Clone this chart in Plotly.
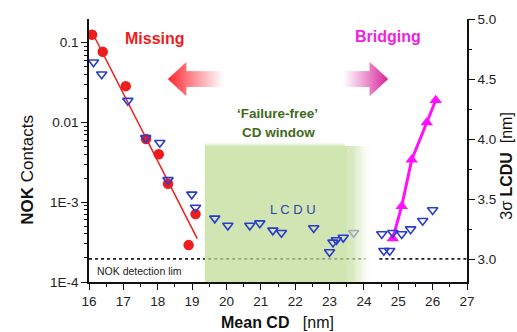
import math
import plotly.graph_objects as go

# ---------------- data ----------------
# Missing contacts (NOK fraction, left log axis)
miss_cd = [16.09, 16.40, 17.07, 17.66, 18.03, 18.30, 18.90, 19.10]
miss_nok = [0.126, 0.077, 0.0285, 0.0062, 0.0040, 0.0017, 2.9e-4, 7.1e-4]

# exponential fit through the missing-contact data
miss_fit_cd = [16.09, 19.15]
miss_fit_nok = [0.135, 3.5e-4]

# Bridging contacts (NOK fraction, left log axis)
bridge_cd = [24.84, 25.10, 25.39, 25.83, 26.09]
bridge_nok = [3.5e-4, 8.9e-4, 3.4e-3, 0.010, 0.019]

# Local CD uniformity (3 sigma, nm, right axis)
lcdu_cd = [16.13, 16.37, 17.13, 17.65, 18.06, 18.30, 18.99, 19.10, 19.66, 20.04,
           20.68, 20.97, 21.35, 21.60, 22.54, 23.00, 23.10, 23.20, 23.40, 23.70,
           24.52, 24.58, 24.75, 24.84, 25.10, 25.36, 25.71, 26.00]
lcdu_nm = [4.64, 4.54, 4.32, 4.01, 3.97, 3.66, 3.54, 3.43, 3.34, 3.28,
           3.28, 3.30, 3.24, 3.22, 3.26, 3.06, 3.14, 3.16, 3.18, 3.22,
           3.21, 3.07, 3.07, 3.22, 3.21, 3.25, 3.32, 3.41]

detection_limit = 1.95e-4
window_cd = [19.37, 23.45, 24.25]   # start, fade start, end of the failure-free window

x_ticks = list(range(16, 28))
nok_tickvals = [1e-4, 1e-3, 1e-2, 1e-1]
nok_ticktext = ["1E-4", "1E-3", "0.01", "0.1"]
lcdu_tickvals = [3.0, 3.5, 4.0, 4.5, 5.0]

# ---------------- layout geometry ----------------
W, H = 517, 332
L, R, T, B = 89, 50, 15, 50
PW, PH = W - L - R, H - T - B


def pxp(x):
    return (x - L) / PW


def pyp(y):
    return (H - B - y) / PH


FONT = "Liberation Sans, Arial, sans-serif"
BLUE = "#2a3ccc"
RED = "#ee1c1c"
MAGENTA = "#ff10ff"
GREEN = (208, 229, 178)

fig = go.Figure()

# detection limit (dashed), lighter inside the window
fig.add_trace(go.Scatter(x=[16, window_cd[0]], y=[detection_limit] * 2, mode="lines",
                         line=dict(color="#222222", width=1.6, dash="3px,3px"),
                         hoverinfo="skip", showlegend=False))
fig.add_trace(go.Scatter(x=[window_cd[0] + 0.1, 24.05], y=[detection_limit] * 2,
                         mode="lines", line=dict(color="#7f9468", width=1.4, dash="3px,3px"),
                         hoverinfo="skip", showlegend=False))
fig.add_trace(go.Scatter(x=[24.45, 27], y=[detection_limit] * 2, mode="lines",
                         line=dict(color="#222222", width=1.6, dash="3px,3px"),
                         hoverinfo="skip", showlegend=False))

# LCDU on the right axis
lcdu_colors = ["#a4a8bc" if window_cd[1] + 0.15 < x < window_cd[2] else BLUE for x in lcdu_cd]
fig.add_trace(go.Scatter(x=lcdu_cd, y=lcdu_nm, yaxis="y2", mode="markers",
                         marker=dict(symbol="triangle-down-open", size=9,
                                     color=lcdu_colors, line=dict(width=1.6, color=lcdu_colors)),
                         showlegend=False))

# missing contacts
fig.add_trace(go.Scatter(x=miss_fit_cd, y=miss_fit_nok, mode="lines",
                         line=dict(color=RED, width=1.5), showlegend=False))
fig.add_trace(go.Scatter(x=miss_cd, y=miss_nok, mode="markers",
                         marker=dict(symbol="circle", size=10.5, color=RED),
                         showlegend=False))

# bridging contacts
fig.add_trace(go.Scatter(x=bridge_cd, y=bridge_nok, mode="lines+markers",
                         line=dict(color=MAGENTA, width=3),
                         marker=dict(symbol="triangle-up", size=11, color=MAGENTA),
                         showlegend=False))

shapes = []

# failure-free window: solid part, then a smooth fade to white on the right
top = pyp(144)
shapes.append(dict(type="rect", xref="x", yref="paper", x0=window_cd[0], x1=window_cd[1],
                   y0=0, y1=top, fillcolor="rgb(%d,%d,%d)" % GREEN, line=dict(width=0),
                   layer="below"))
nf = 24
for i in range(nf):
    a = window_cd[1] + (window_cd[2] - window_cd[1]) * i / nf
    b = window_cd[1] + (window_cd[2] - window_cd[1]) * (i + 1) / nf
    s = (i + 0.5) / nf
    t = s * s * (3 - 2 * s)
    c = tuple(int(round(g + (255 - g) * t)) for g in GREEN)
    shapes.append(dict(type="rect", xref="x", yref="paper", x0=a - 0.005, x1=b + 0.005,
                       y0=0, y1=top, fillcolor="rgb(%d,%d,%d)" % c, line=dict(width=0),
                       layer="below"))
# soft top edge
for i in range(3):
    t = (i + 1) / 4
    c = tuple(int(round(g + (255 - g) * t)) for g in GREEN)
    shapes.append(dict(type="rect", xref="x", yref="paper", x0=window_cd[0], x1=window_cd[1],
                       y0=top + i * 1.0 / PH, y1=top + (i + 1) * 1.0 / PH,
                       fillcolor="rgb(%d,%d,%d)" % c, line=dict(width=0), layer="below"))


def gradient_arrow(tip, head_base, tail, cy, head_half, body_half, rgb, n=28):
    """Horizontal block arrow drawn as thin slices fading from rgb at the tip to white at the tail."""
    out = []
    d = 1 if tail > tip else -1
    span = abs(tail - tip)

    def half(x):
        if (x - head_base) * d <= 0:
            return head_half * abs(x - tip) / abs(head_base - tip)
        return body_half

    edges = [tip + d * span * k / n for k in range(n + 1)]
    edges.append(head_base)
    edges = sorted(set(edges), key=lambda v: (v - tip) * d)
    for k in range(len(edges) - 1):
        xa, xb = edges[k], edges[k + 1]
        xm = 0.5 * (xa + xb)
        t = abs(xm - tip) / span
        f = t ** 0.9
        col = tuple(int(round(v + (255 - v) * f)) for v in rgb)
        ha = half(xa + 0.001 * d) if k else 0.0
        hb = half(xb - 0.001 * d)
        xa2, xb2 = xa - 0.4 * d, xb + 0.4 * d
        path = "M %f,%f L %f,%f L %f,%f L %f,%f Z" % (
            pxp(xa2), pyp(cy - ha), pxp(xb2), pyp(cy - hb),
            pxp(xb2), pyp(cy + hb), pxp(xa2), pyp(cy + ha))
        out.append(dict(type="path", xref="paper", yref="paper", path=path,
                        fillcolor="rgb(%d,%d,%d)" % col, line=dict(width=0), layer="above"))
    return out


shapes += gradient_arrow(tip=168, head_base=186, tail=224, cy=76, head_half=17,
                         body_half=8, rgb=(255, 30, 40))
shapes += gradient_arrow(tip=388, head_base=370, tail=343, cy=76, head_half=17,
                         body_half=8, rgb=(215, 25, 150))

annotations = []


def label(text, x, y, size, color, bold=False, angle=0, xanchor="center", family=FONT):
    annotations.append(dict(text=("<b>%s</b>" % text) if bold else text,
                            x=pxp(x), y=pyp(y), xref="paper", yref="paper",
                            xanchor=xanchor, yanchor="middle", showarrow=False,
                            textangle=angle, font=dict(size=size, color=color, family=family)))


label("Missing", 155, 35, 16, RED, bold=True)
label("Bridging", 388, 33, 16, "#ee22dd", bold=True)
label("‘Failure-free’", 277, 111, 13.5, "#3f6a1c", bold=True)
label("CD window", 278, 130, 13.5, "#3f6a1c", bold=True)
label("L C D U", 293, 208, 13, "#3344aa")
label("NOK detection lim", 95, 271, 10.5, "#222222", xanchor="left")

# axis titles
label("<b>NOK</b> Contacts", 28, 168, 17, "#111111", angle=-90)
label("3σ <b>LCDU</b>  [nm]", 507, 164, 16, "#111111", angle=-90)
label("<b>Mean CD</b>   [nm]", 277, 323, 16, "#111111")

nok_minor = [m * 10 ** e for e in range(-4, 0) for m in range(2, 10) if m * 10 ** e < 0.2]

axis_common = dict(showline=True, linecolor="#111111", linewidth=1.5, showgrid=False,
                   zeroline=False, ticks="outside", ticklen=6, tickwidth=1.2,
                   tickcolor="#111111",
                   tickfont=dict(family=FONT, size=13.5, color="#222222"))

fig.update_layout(
    width=W, height=H,
    margin=dict(l=L, r=R, t=T, b=B, pad=0),
    paper_bgcolor="white", plot_bgcolor="white",
    showlegend=False,
    shapes=shapes,
    annotations=annotations,
    xaxis=dict(range=[16, 27], tickmode="array", tickvals=x_ticks,
               minor=dict(ticks="outside", ticklen=3, tickwidth=1, dtick=0.5,
                          tick0=16, tickcolor="#111111"),
               **axis_common),
    yaxis=dict(type="log", range=[-4, math.log10(0.198)], tickmode="array",
               tickvals=nok_tickvals, ticktext=nok_ticktext,
               minor=dict(ticks="outside", ticklen=3, tickwidth=1,
                          tickmode="array", tickvals=nok_minor, tickcolor="#111111"),
               **axis_common),
    yaxis2=dict(overlaying="y", side="right", range=[2.81, 5.0], tickmode="array",
                tickvals=lcdu_tickvals, ticktext=["%.1f" % v for v in lcdu_tickvals],
                minor=dict(ticks="outside", ticklen=3, tickwidth=1, dtick=0.25,
                           tick0=3.0, tickcolor="#111111"),
                **axis_common),
)

fig.write_html("out.html")
